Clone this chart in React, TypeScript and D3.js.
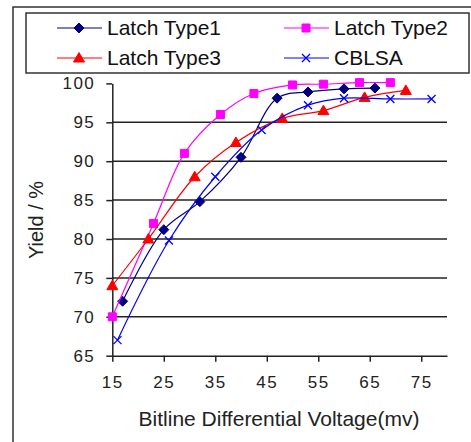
import React, { useEffect, useRef } from "react";
import * as d3 from "d3";

// bitline differential voltage (mV) and yield (%)
const type1X = [17, 25, 32, 40, 47, 53, 60, 66];
const type1Y = [72, 81.2, 84.8, 90.5, 98.1, 98.9, 99.3, 99.4];

const type2X = [15, 23, 29, 36, 42.5, 50, 56, 63, 69];
const type2Y = [70, 82, 91, 96, 98.7, 99.8, 99.9, 100.1, 100.1];

const type3X = [15, 22, 31, 39, 48, 56, 64, 72];
const type3Y = [74, 80, 88, 92.4, 95.5, 96.5, 98.2, 99.1];

const cblsaX = [16, 26, 35, 44, 53, 60, 69, 77];
const cblsaY = [67, 79.8, 88, 94, 97.2, 98.1, 98, 98];

const xTicks = [15, 25, 35, 45, 55, 65, 75];
const yTicks = [65, 70, 75, 80, 85, 90, 95, 100];
const gridTicks = [70, 75, 80, 85, 90, 95];

type Marker = "diamond" | "square" | "triangle" | "cross";

const seriesList: { name: string; xs: number[]; ys: number[]; color: string; marker: Marker }[] = [
  { name: "Latch Type1", xs: type1X, ys: type1Y, color: "#000080", marker: "diamond" },
  { name: "Latch Type2", xs: type2X, ys: type2Y, color: "#ff00ff", marker: "square" },
  { name: "Latch Type3", xs: type3X, ys: type3Y, color: "#ff0000", marker: "triangle" },
  { name: "CBLSA", xs: cblsaX, ys: cblsaY, color: "#0000ff", marker: "cross" },
];

const FONT = "'Liberation Sans', Arial, sans-serif";

function markerPath(kind: Marker, cx: number, cy: number): string {
  if (kind === "diamond") {
    const r = 5;
    return `M${cx},${cy - r}L${cx + r},${cy}L${cx},${cy + r}L${cx - r},${cy}Z`;
  }
  if (kind === "square") {
    const r = 4;
    return `M${cx - r},${cy - r}H${cx + r}V${cy + r}H${cx - r}Z`;
  }
  if (kind === "triangle") {
    return `M${cx},${cy - 5.5}L${cx + 5.5},${cy + 4}L${cx - 5.5},${cy + 4}Z`;
  }
  const r = 4;
  return `M${cx - r},${cy - r}L${cx + r},${cy + r}M${cx - r},${cy + r}L${cx + r},${cy - r}`;
}

function drawMarker(g: d3.Selection<SVGGElement, unknown, null, undefined>, kind: Marker, cx: number, cy: number, color: string) {
  g.append("path")
    .attr("d", markerPath(kind, cx, cy))
    .attr("fill", kind === "cross" ? "none" : color)
    .attr("stroke", color)
    .attr("stroke-width", kind === "cross" ? 1.3 : 1);
}

export default function App() {
  const ref = useRef<SVGSVGElement>(null);

  useEffect(() => {
    const svg = d3.select(ref.current);
    svg.selectAll("*").remove();

    const xScale = d3.scaleLinear().domain([15, 80]).range([112.3, 447]);
    const yScale = d3.scaleLinear().domain([65, 100]).range([355.7, 83.4]);

    // outer frame
    svg.append("path")
      .attr("d", "M13,442V7H471")
      .attr("fill", "none")
      .attr("stroke", "#333")
      .attr("stroke-width", 1.5);

    // legend box
    svg.append("rect")
      .attr("x", 26)
      .attr("y", 13)
      .attr("width", 443)
      .attr("height", 60)
      .attr("fill", "white")
      .attr("stroke", "#333")
      .attr("stroke-width", 1.5);

    const plot = svg.append("g");

    // gridlines
    plot.selectAll(".grid")
      .data(gridTicks)
      .join("line")
      .attr("class", "grid")
      .attr("x1", xScale(15))
      .attr("x2", xScale(80))
      .attr("y1", d => yScale(d))
      .attr("y2", d => yScale(d))
      .attr("stroke", "#222")
      .attr("stroke-width", 1.5);

    // x axis
    const xAxis = plot.append("g")
      .attr("transform", `translate(0, ${yScale(65)})`)
      .call(d3.axisBottom(xScale).tickValues(xTicks).tickSize(6).tickSizeOuter(0).tickPadding(14));
    xAxis.select(".domain").attr("stroke", "#222").attr("stroke-width", 1.5);
    xAxis.selectAll(".tick line").attr("stroke", "#222").attr("stroke-width", 1.5);
    xAxis.selectAll("text")
      .attr("font-family", FONT)
      .attr("font-size", 17)
      .attr("letter-spacing", 1.5)
      .attr("fill", "#222");

    // y axis
    const yAxis = plot.append("g")
      .attr("transform", `translate(${xScale(15)}, 0)`)
      .call(d3.axisLeft(yScale).tickValues(yTicks).tickSize(6).tickSizeOuter(0).tickPadding(11));
    yAxis.select(".domain").attr("stroke", "#222").attr("stroke-width", 1.5);
    yAxis.selectAll(".tick line").attr("stroke", "#222").attr("stroke-width", 1.5);
    yAxis.selectAll("text")
      .attr("font-family", FONT)
      .attr("font-size", 17)
      .attr("letter-spacing", 1.5)
      .attr("fill", "#222");

    // series
    const line = d3.line<[number, number]>()
      .x(d => xScale(d[0]))
      .y(d => yScale(d[1]))
      .curve(d3.curveCatmullRom.alpha(0.5));

    seriesList.forEach(s => {
      const pts: [number, number][] = s.xs.map((x, i) => [x, s.ys[i]]);
      const g = plot.append("g");
      g.append("path")
        .attr("d", line(pts))
        .attr("fill", "none")
        .attr("stroke", s.color)
        .attr("stroke-width", 1.2);
      pts.forEach(p => drawMarker(g, s.marker, xScale(p[0]), yScale(p[1]), s.color));
    });

    // axis titles
    svg.append("text")
      .attr("x", 279)
      .attr("y", 426)
      .attr("text-anchor", "middle")
      .attr("font-family", FONT)
      .attr("font-size", 21)
      .attr("fill", "#222")
      .text("Bitline Differential Voltage(mv)");

    svg.append("text")
      .attr("transform", "translate(43, 220) rotate(-90)")
      .attr("text-anchor", "middle")
      .attr("font-family", FONT)
      .attr("font-size", 20)
      .attr("fill", "#222")
      .text("Yield / %");

    // legend
    const legendPos = [
      { lx: 57, y: 28 },
      { lx: 284, y: 28 },
      { lx: 57, y: 58 },
      { lx: 284, y: 58 },
    ];
    seriesList.forEach((s, i) => {
      const p = legendPos[i];
      const g = svg.append("g");
      g.append("line")
        .attr("x1", p.lx)
        .attr("x2", p.lx + 45)
        .attr("y1", p.y)
        .attr("y2", p.y)
        .attr("stroke", s.color)
        .attr("stroke-width", 1.2);
      drawMarker(g, s.marker, p.lx + 22, p.y, s.color);
      g.append("text")
        .attr("x", p.lx + 50)
        .attr("y", p.y + 7)
        .attr("font-family", FONT)
        .attr("font-size", 21)
        .attr("fill", "#111")
        .text(s.name);
    });
  }, []);

  return (
    <svg
      ref={ref}
      width={471}
      height={442}
      style={{ position: "absolute", left: 0, top: 0, background: "white" }}
    />
  );
}
